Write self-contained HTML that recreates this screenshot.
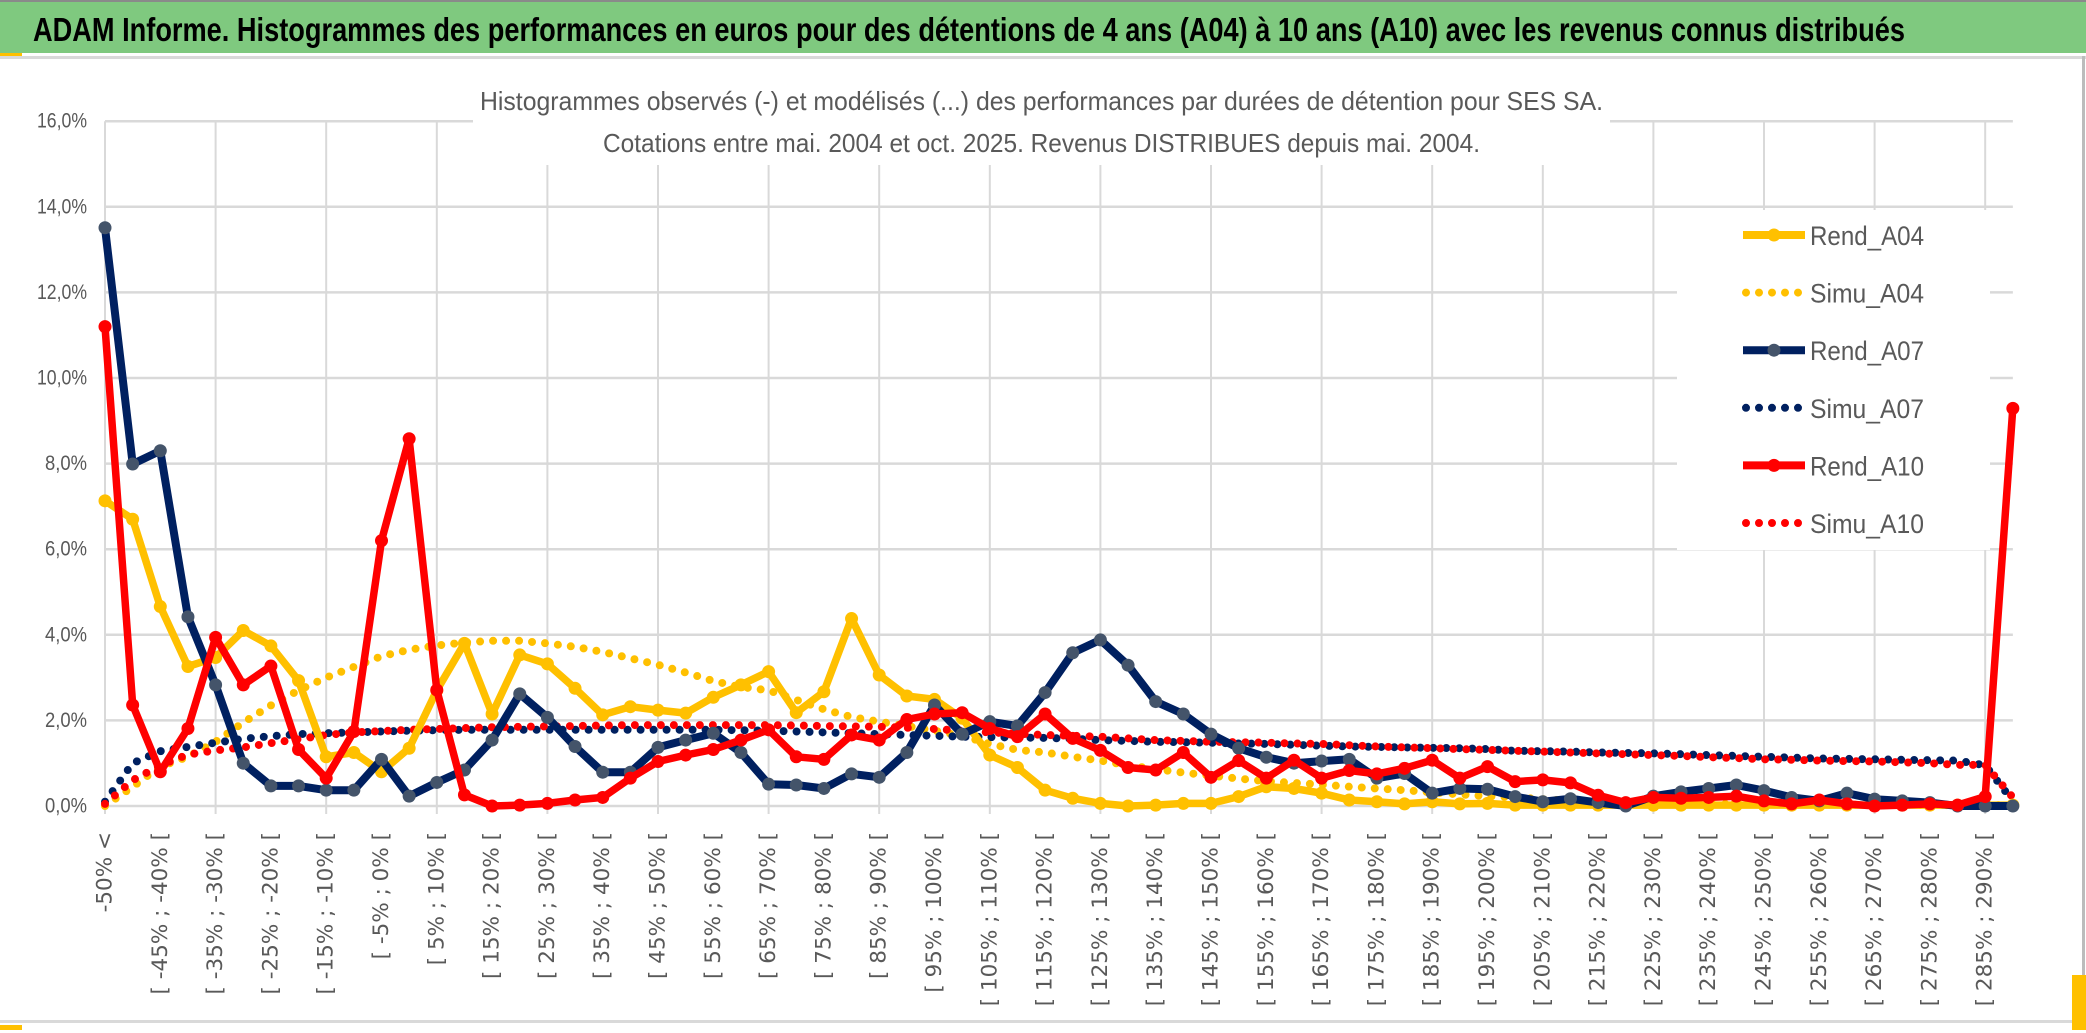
<!DOCTYPE html>
<html><head><meta charset="utf-8">
<style>
html,body{margin:0;padding:0;background:#fff;}
svg{display:block;}
text{font-family:"Liberation Sans Narrow","Liberation Sans",sans-serif;}
</style></head>
<body>
<svg id="chart" width="2086" height="1033" viewBox="0 0 2086 1033" xmlns="http://www.w3.org/2000/svg">
  <rect x="0" y="0" width="2086" height="1033" fill="#ffffff"/>
  <g>
    <rect x="0" y="0" width="2086" height="2" fill="#8a8a8a"/>
    <rect x="0" y="2" width="2086" height="51" fill="#7FC97F"/>
    <rect x="0" y="56" width="2086" height="3" fill="#d9d9d9"/>
    <rect x="0" y="53" width="22" height="3" fill="#FFC000"/>
    <text x="33" y="41" font-size="33" font-weight="bold" fill="#000" textLength="1872" lengthAdjust="spacingAndGlyphs">ADAM Informe. Histogrammes des performances en euros pour des détentions de 4 ans (A04) à 10 ans (A10) avec les revenus connus distribués</text>
  </g>
  <rect x="0" y="1020" width="2086" height="3" fill="#d9d9d9"/>
  <rect x="0" y="1025" width="22" height="5" fill="#FFC000"/>
  <rect x="2082" y="56" width="3" height="970" fill="#bcbcbc"/>
  <rect x="2072" y="975" width="14" height="55" fill="#FFC000"/>
  <g id="grid"></g>
  <rect x="473" y="78" width="1137" height="87" fill="#fff"/>
  <text x="480" y="110" font-size="26" fill="#595959" textLength="1123" lengthAdjust="spacingAndGlyphs">Histogrammes observés (-) et modélisés (...) des performances par durées de détention pour SES SA.</text>
  <text x="603" y="152" font-size="26" fill="#595959" textLength="877" lengthAdjust="spacingAndGlyphs">Cotations entre mai. 2004 et oct. 2025. Revenus DISTRIBUES depuis mai. 2004.</text>
  <g id="yaxis"></g>
  <g id="xaxis"></g>
  <g id="series"></g>
  <g id="legend"></g>
</svg>
<script>
const yTicks = [0, 2, 4, 6, 8, 10, 12, 14, 16];
const yTickLabels = ["0,0%","2,0%","4,0%","6,0%","8,0%","10,0%","12,0%","14,0%","16,0%"];
const rendA04 = [7.13,6.7,4.66,3.26,3.47,4.10,3.74,2.93,1.15,1.25,0.80,1.35,2.7,3.8,2.15,3.53,3.32,2.75,2.13,2.32,2.24,2.17,2.54,2.83,3.14,2.18,2.67,4.38,3.06,2.57,2.49,2.05,1.19,0.90,0.37,0.18,0.06,0.0,0.02,0.06,0.06,0.22,0.45,0.41,0.30,0.14,0.10,0.05,0.10,0.05,0.06,0.02,0.02,0.02,0.02,0.02,0.02,0.02,0.02,0.02,0.02,0.02,0.02,0.02,0.02,0.02,0.02,0.02,0.02,0.02];
const simuA04 = [0.0,0.45,0.92,1.15,1.5,1.95,2.35,2.7,3.0,3.25,3.5,3.65,3.75,3.82,3.86,3.86,3.8,3.72,3.6,3.45,3.3,3.12,2.92,2.78,2.7,2.48,2.26,2.08,1.97,1.87,1.76,1.64,1.45,1.31,1.25,1.15,1.06,0.95,0.86,0.78,0.71,0.64,0.58,0.54,0.5,0.45,0.41,0.37,0.32,0.27,0.23,0.2,0.16,0.12,0.1,0.08,0.07,0.06,0.05,0.05,0.04,0.04,0.03,0.03,0.03,0.03,0.02,0.02,0.02,0.02];
const rendA07 = [13.51,7.99,8.30,4.42,2.83,1.0,0.47,0.47,0.37,0.37,1.09,0.23,0.55,0.84,1.54,2.62,2.07,1.39,0.79,0.79,1.37,1.54,1.70,1.25,0.51,0.49,0.41,0.75,0.67,1.25,2.36,1.68,1.97,1.87,2.65,3.58,3.88,3.29,2.44,2.15,1.68,1.35,1.14,1.0,1.05,1.09,0.65,0.76,0.30,0.41,0.39,0.22,0.10,0.17,0.08,0.0,0.23,0.33,0.41,0.49,0.36,0.20,0.12,0.30,0.16,0.12,0.08,0.0,0.0,0.0];
const simuA07 = [0.1,1.0,1.28,1.38,1.48,1.57,1.63,1.68,1.7,1.72,1.74,1.76,1.77,1.78,1.78,1.78,1.78,1.78,1.78,1.78,1.78,1.78,1.78,1.77,1.76,1.74,1.72,1.7,1.68,1.66,1.64,1.62,1.61,1.6,1.59,1.57,1.54,1.52,1.5,1.49,1.48,1.46,1.45,1.43,1.41,1.39,1.38,1.37,1.36,1.35,1.33,1.29,1.28,1.27,1.25,1.24,1.23,1.21,1.19,1.17,1.15,1.13,1.11,1.1,1.09,1.08,1.07,1.06,0.95,0.12];
const rendA10 = [11.2,2.36,0.80,1.81,3.94,2.83,3.27,1.32,0.65,1.74,6.2,8.58,2.71,0.26,0.0,0.02,0.06,0.14,0.2,0.65,1.04,1.19,1.32,1.54,1.78,1.15,1.09,1.66,1.54,2.02,2.15,2.18,1.81,1.62,2.15,1.58,1.30,0.9,0.84,1.25,0.67,1.06,0.65,1.07,0.65,0.83,0.75,0.88,1.07,0.65,0.92,0.57,0.61,0.54,0.25,0.08,0.2,0.18,0.2,0.23,0.12,0.05,0.14,0.05,0.0,0.02,0.05,0.02,0.22,9.29];
const simuA10 = [0.05,0.6,0.95,1.2,1.3,1.37,1.47,1.56,1.66,1.72,1.75,1.78,1.8,1.82,1.84,1.85,1.86,1.87,1.88,1.89,1.89,1.89,1.89,1.89,1.89,1.88,1.87,1.86,1.85,1.83,1.8,1.76,1.72,1.69,1.66,1.64,1.62,1.58,1.54,1.52,1.5,1.49,1.48,1.46,1.45,1.42,1.39,1.37,1.35,1.33,1.31,1.29,1.27,1.25,1.23,1.21,1.19,1.17,1.14,1.12,1.09,1.08,1.06,1.05,1.04,1.02,1.0,0.96,0.96,0.2];

const NS = "http://www.w3.org/2000/svg";
const X0 = 105, STEP = 27.65, Y0 = 806, PPU = 42.8;
const N = rendA04.length;
function xPos(i){ return X0 + i * STEP; }
function yPos(v){ return Y0 - v * PPU; }
function mk(tag, attrs, parent){
  const e = document.createElementNS(NS, tag);
  for (const k in attrs) e.setAttribute(k, attrs[k]);
  parent.appendChild(e);
  return e;
}
function catLabel(i){
  if (i === 0) return "-50% <";
  return "[ " + (-55 + 5*i) + "% ; " + (-50 + 5*i) + "% [";
}
const grid = document.getElementById("grid");
const xEnd = xPos(N - 1);
yTicks.forEach(function(t){
  const l = mk("line", {x1: X0, x2: xEnd, y1: yPos(t), y2: yPos(t), stroke: "#d9d9d9", "stroke-width": 2.5}, grid);
  
  
});
for (let i = 0; i < N; i += 4){
  const l = mk("line", {x1: xPos(i), x2: xPos(i), y1: yPos(16), y2: Y0 + 8, stroke: "#d9d9d9", "stroke-width": 2}, grid);
  
  
}
const yaxis = document.getElementById("yaxis");
yTicks.forEach(function(t, k){
  const tx = mk("text", {x: 87, y: yPos(t), "text-anchor": "end", "dominant-baseline": "central", "font-size": 21, fill: "#595959", textLength: (t >= 10 ? 50 : 42), lengthAdjust: "spacingAndGlyphs"}, yaxis);
  
  
  tx.textContent = yTickLabels[k];
});
const xaxis = document.getElementById("xaxis");
for (let i = 0; i < N; i += 2){
  const x = xPos(i), y = 832;
  const tx = mk("text", {x: x, y: y, "text-anchor": "end", "dominant-baseline": "central", "font-size": 21.5, fill: "#595959", transform: "rotate(-90 " + x + " " + y + ")", style: "font-family:'DejaVu Sans',sans-serif"}, xaxis);
  
  
  tx.textContent = catLabel(i);
}
const series = document.getElementById("series");
function pts(arr){ return arr.map(function(v, i){ return xPos(i).toFixed(1) + "," + yPos(v).toFixed(1); }).join(" "); }
function dotted(arr, color, name){
  const p = mk("polyline", {points: pts(arr), fill: "none", stroke: color, "stroke-width": 8, "stroke-linecap": "round", "stroke-dasharray": "0 13"}, series);
  
  
}
function solid(arr, color, mcolor, w, name){
  const g = mk("g", {}, series);
  
  
  mk("polyline", {points: pts(arr), fill: "none", stroke: color, "stroke-width": w, "stroke-linejoin": "round"}, g);
  arr.forEach(function(v, i){
    const c = mk("circle", {cx: xPos(i), cy: yPos(v), r: 6.5, fill: mcolor}, g);
    
    
  });
}
dotted(simuA04, "#FFC000", "simu-a04-line");
dotted(simuA07, "#002060", "simu-a07-line");
dotted(simuA10, "#FF0000", "simu-a10-line");
solid(rendA04, "#FFC000", "#FFC000", 7.5, "rend-a04-line");
solid(rendA07, "#002060", "#44546A", 8, "rend-a07-line");
solid(rendA10, "#FF0000", "#FF0000", 7.5, "rend-a10-line");

const legend = document.getElementById("legend");
mk("rect", {x: 1677, y: 210, width: 313, height: 340, fill: "#fff"}, legend);
const legendNames = ["Rend_A04","Simu_A04","Rend_A07","Simu_A07","Rend_A10","Simu_A10"];
const legendColors = ["#FFC000","#FFC000","#002060","#002060","#FF0000","#FF0000"];
const legendMarker = ["#FFC000","","#44546A","","#FF0000",""];
legendNames.forEach(function(nm, k){
  const y = 235 + k * 57.6;
  const g = mk("g", {}, legend);
  
  
  if (k % 2 === 0){
    mk("line", {x1: 1743, x2: 1805, y1: y, y2: y, stroke: legendColors[k], "stroke-width": 8}, g);
    mk("circle", {cx: 1774, cy: y, r: 6.5, fill: legendMarker[k]}, g);
  } else {
    mk("line", {x1: 1746, x2: 1800, y1: y, y2: y, stroke: legendColors[k], "stroke-width": 8, "stroke-linecap": "round", "stroke-dasharray": "0 13"}, g);
  }
  const t = mk("text", {x: 1810, y: y + 10, "font-size": 27, fill: "#595959", textLength: 114, lengthAdjust: "spacingAndGlyphs"}, g);
  
  
  t.textContent = nm;
});
</script>
</body></html>
